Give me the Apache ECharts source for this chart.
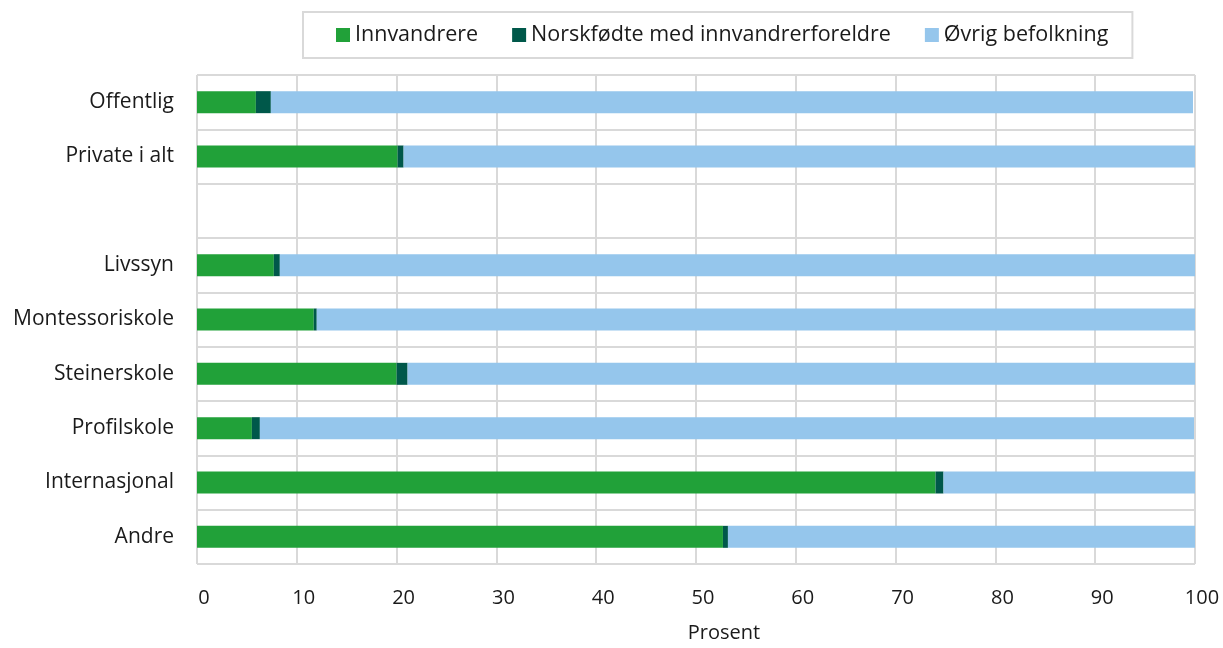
<!DOCTYPE html>
<html>
<head>
<meta charset="utf-8">
<script src="https://cdn.jsdelivr.net/npm/echarts@6/dist/echarts.min.js"></script>
<style>html,body{margin:0;padding:0;background:#fff;}#c{width:1223px;height:648px;}</style>
</head>
<body>
<div id="c"></div>
<script>
const categories = ['Offentlig', 'Private i alt', '', 'Livssyn', 'Montessoriskole', 'Steinerskole', 'Profilskole', 'Internasjonal', 'Andre'];
const innvandrere = [5.9, 20.1, null, 7.7, 11.7, 20.0, 5.5, 74.0, 52.7];
const norskfodte = [1.5, 0.6, null, 0.6, 0.3, 1.1, 0.8, 0.8, 0.5];
const ovrig = [92.4, 79.3, null, 91.7, 88.0, 78.9, 93.6, 25.2, 46.8];
const xTicks = [0, 10, 20, 30, 40, 50, 60, 70, 80, 90, 100];

const font = '"Open Sans", "Noto Sans", sans-serif';
const chart = echarts.init(document.getElementById('c'), null, {renderer: 'canvas'});
chart.setOption({
  animation: false,
  textStyle: {fontFamily: font},
  legend: {
    top: 12,
    left: 303,
    padding: [12, 24, 12, 33],
    borderColor: '#d9d9d9',
    borderWidth: 2,
    itemWidth: 14,
    itemHeight: 14,
    itemGap: 34,
    icon: 'rect',
    textStyle: {fontSize: 21.5, color: '#1a1a1a', fontFamily: font},
    data: ['Innvandrere', 'Norskfødte med innvandrerforeldre', 'Øvrig befolkning']
  },
  grid: {left: 197, right: 28, top: 75, bottom: 79, containLabel: false},
  xAxis: {
    type: 'value', min: 0, max: 100, interval: 10,
    axisLine: {show: false}, axisTick: {show: false},
    splitLine: {show: true, lineStyle: {color: '#d9d9d9', width: 2}},
    axisLabel: {
      fontSize: 20, color: '#1a1a1a', margin: 24, padding: [0, 0, 0, 14],
      formatter: v => xTicks.indexOf(v) >= 0 ? String(v) : ''
    },
    name: 'Prosent', nameLocation: 'middle', nameGap: 59,
    nameTextStyle: {fontSize: 20, color: '#1a1a1a', padding: [0, 0, 0, 56]}
  },
  yAxis: {
    type: 'category', data: categories, inverse: true,
    axisLine: {show: false}, axisTick: {show: false},
    splitLine: {show: true, lineStyle: {color: '#d9d9d9', width: 2}},
    axisLabel: {fontSize: 21, color: '#1a1a1a', margin: 23}
  },
  series: [
    {name: 'Innvandrere', type: 'bar', stack: 's', data: innvandrere, barWidth: 22, itemStyle: {color: '#21a139'}},
    {name: 'Norskfødte med innvandrerforeldre', type: 'bar', stack: 's', data: norskfodte, barWidth: 22, itemStyle: {color: '#00584a'}},
    {name: 'Øvrig befolkning', type: 'bar', stack: 's', data: ovrig, barWidth: 22, itemStyle: {color: '#95c6ec'}}
  ]
});
</script>
</body>
</html>
